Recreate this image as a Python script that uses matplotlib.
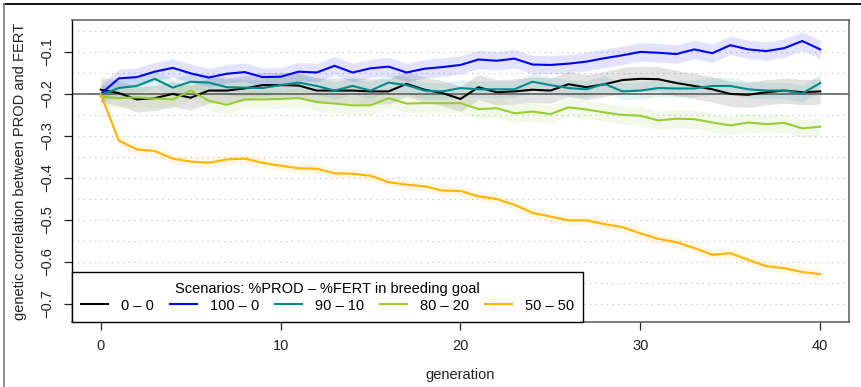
import numpy as np
import matplotlib
matplotlib.use('Agg')
import matplotlib.pyplot as plt
from matplotlib.lines import Line2D

plt.rcParams['font.family'] = ['Liberation Sans', 'DejaVu Sans']

# genetic correlation PROD/FERT per generation, one series per breeding-goal scenario
generation = np.arange(0, 41)

corr_0_0 = [-0.190, -0.198, -0.213, -0.210, -0.200, -0.209, -0.192, -0.192, -0.187, -0.179,
            -0.179, -0.180, -0.192, -0.192, -0.192, -0.194, -0.194, -0.176, -0.190, -0.198,
            -0.212, -0.184, -0.196, -0.194, -0.190, -0.192, -0.177, -0.184, -0.177, -0.167,
            -0.164, -0.165, -0.174, -0.181, -0.189, -0.200, -0.202, -0.196, -0.192, -0.196,
            -0.194]
corr_100_0 = [-0.200, -0.163, -0.160, -0.147, -0.138, -0.151, -0.161, -0.152, -0.148, -0.160,
              -0.159, -0.147, -0.149, -0.133, -0.149, -0.139, -0.135, -0.149, -0.140, -0.136,
              -0.131, -0.118, -0.121, -0.116, -0.130, -0.131, -0.128, -0.123, -0.115, -0.108,
              -0.100, -0.102, -0.105, -0.094, -0.103, -0.084, -0.094, -0.098, -0.091, -0.074,
              -0.094]
corr_90_10 = [-0.202, -0.186, -0.181, -0.164, -0.185, -0.171, -0.173, -0.184, -0.185, -0.186,
              -0.179, -0.173, -0.181, -0.192, -0.181, -0.192, -0.173, -0.179, -0.192, -0.194,
              -0.186, -0.189, -0.189, -0.189, -0.171, -0.179, -0.186, -0.189, -0.176, -0.194,
              -0.192, -0.186, -0.187, -0.187, -0.181, -0.181, -0.189, -0.192, -0.192, -0.199,
              -0.174]
corr_80_20 = [-0.206, -0.210, -0.208, -0.211, -0.213, -0.192, -0.216, -0.226, -0.213, -0.213,
              -0.212, -0.210, -0.219, -0.223, -0.227, -0.227, -0.210, -0.223, -0.222, -0.222,
              -0.222, -0.236, -0.234, -0.246, -0.242, -0.248, -0.232, -0.237, -0.244, -0.250,
              -0.252, -0.263, -0.259, -0.260, -0.268, -0.275, -0.268, -0.272, -0.269, -0.282,
              -0.278]
corr_50_50 = [-0.200, -0.311, -0.332, -0.336, -0.354, -0.361, -0.364, -0.356, -0.354, -0.364,
              -0.371, -0.377, -0.378, -0.389, -0.390, -0.395, -0.410, -0.416, -0.420, -0.430,
              -0.431, -0.444, -0.450, -0.464, -0.483, -0.492, -0.501, -0.501, -0.510, -0.517,
              -0.532, -0.545, -0.553, -0.567, -0.583, -0.579, -0.595, -0.610, -0.615, -0.624,
              -0.629]

# half width of the shaded interval around each mean
band_0_0 = 0.030
band_100_0 = 0.022
band_90_10 = 0.020
band_80_20 = 0.022
band_50_50 = 0.011

scenario_labels = ['0 – 0', '100 – 0', '90 – 10', '80 – 20', '50 – 50']
scenario_colors = ['#000000', '#0000FF', '#008B8B', '#9ACD32', '#FFB400']

series = [corr_0_0, corr_100_0, corr_90_10, corr_80_20, corr_50_50]
bands = [band_0_0, band_100_0, band_90_10, band_80_20, band_50_50]

y_ticks = [-0.7, -0.6, -0.5, -0.4, -0.3, -0.2, -0.1]
grid_levels = [-0.05, -0.10, -0.15, -0.20, -0.25, -0.30, -0.35, -0.40, -0.45,
               -0.50, -0.55, -0.60, -0.65, -0.70]
x_ticks = [0, 10, 20, 30, 40]

W, H = 862, 387
fig = plt.figure(figsize=(W / 100, H / 100), dpi=100)
ax = fig.add_axes([72 / W, 1 - 322 / H, (849 - 72) / W, (322 - 20) / H])

for lvl in grid_levels:
    ax.axhline(lvl, color='#c4c4c4', lw=0.9, ls=(0, (1, 3.5)), zorder=0)

for y, hw, col in zip(series, bands, scenario_colors):
    y = np.asarray(y)
    ax.fill_between(generation, y - hw, y + hw, color=col, alpha=0.11, lw=0, zorder=1)

ax.axhline(-0.2, color='#555555', lw=1.1, zorder=2)

for y, col, lab in zip(series, scenario_colors, scenario_labels):
    ax.plot(generation, y, color=col, lw=1.5, label=lab, zorder=3)

ax.set_xlim(-1.6, 41.6)
ax.set_ylim(-0.743, -0.024)
ax.set_xticks(x_ticks)
ax.set_yticks(y_ticks)
ax.set_yticklabels([('%.1f' % v).replace('-', '\u2212') for v in y_ticks],
                   rotation=90, va='center')
ax.tick_params(axis='both', direction='out', length=6, width=0.9, labelsize=10.5,
               colors='#222222')
ax.tick_params(axis='y', pad=7)
ax.tick_params(axis='x', pad=6)

for side in ['top', 'right', 'bottom']:
    ax.spines[side].set_color('#666666')
    ax.spines[side].set_linewidth(1.2)
ax.spines['left'].set_color('#000000')
ax.spines['left'].set_linewidth(1.0)

leg = ax.legend(loc='lower left', bbox_to_anchor=(0, 0), borderaxespad=0, ncol=5,
                title='Scenarios: %PROD – %FERT in breeding goal', fontsize=10.5,
                title_fontsize=10.5, frameon=True, fancybox=False, handlelength=1.85,
                handletextpad=0.89, columnspacing=1.08, borderpad=0.65,
                labelspacing=0.2)
leg.get_frame().set_edgecolor('black')
leg.get_frame().set_linewidth(1.0)
leg.get_frame().set_alpha(1)
leg.set_zorder(5)

fig.text(20 / W, 1 - 171 / H, 'genetic correlation between PROD and FERT', rotation=90,
         ha='center', va='center', fontsize=10.5, color='#222222')
fig.text(460 / W, 1 - 375 / H, 'generation', ha='center', va='center', fontsize=10.5,
         color='#222222')

# outer frame lines along the top and left edge
fig.add_artist(Line2D([4 / W, 1], [1 - 4 / H, 1 - 4 / H], color='black', lw=1.3,
                      transform=fig.transFigure))
fig.add_artist(Line2D([4 / W, 4 / W], [0, 1 - 4 / H], color='#888888', lw=1.3,
                      transform=fig.transFigure))

fig.savefig('out.png', dpi=100)
